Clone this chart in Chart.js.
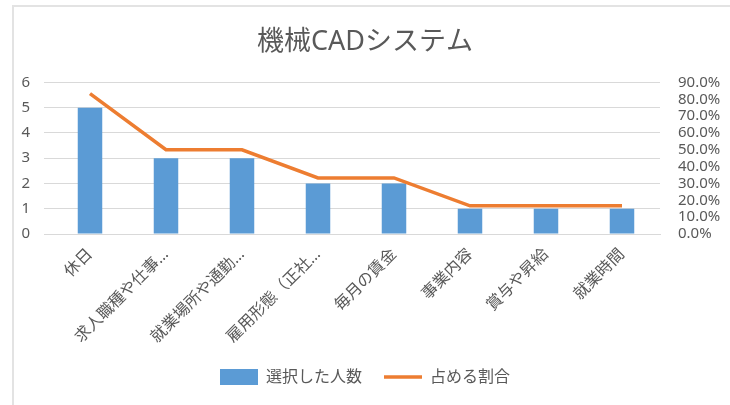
<!DOCTYPE html>
<html lang="ja">
<head>
  <meta charset="UTF-8">
  <title>機械CADシステム</title>
  <script src="https://cdn.jsdelivr.net/npm/chart.js"></script>
  <style>
    body {
      margin: 0;
      padding: 0;
      background: #ffffff;
    }
    .marco {
      position: absolute;
      left: 12px;
      top: 5px;
      width: 800px;
      height: 500px;
      border-left: 2px solid #e3e3e3;
      border-top: 2px solid #e3e3e3;
    }
    .contenedor {
      position: absolute;
      left: 0;
      top: 0;
      width: 730px;
      height: 405px;
    }
  </style>
</head>
<body>
  <div class="marco"></div>
  <div class="contenedor">
    <canvas id="grafico"></canvas>
  </div>

  <script>
    // datos
    const categorias = ['休日', '求人職種や仕事…', '就業場所や通勤…', '雇用形態（正社…', '毎月の賃金', '事業内容', '賞与や昇給', '就業時間'];
    const personas = [5, 3, 3, 2, 2, 1, 1, 1];
    const porcentajes = [0.833, 0.5, 0.5, 0.333, 0.333, 0.167, 0.167, 0.167];
    const ticksIzq = [0, 1, 2, 3, 4, 5, 6];
    const ticksDer = [0, 0.1, 0.2, 0.3, 0.4, 0.5, 0.6, 0.7, 0.8, 0.9];

    const gris = '#595959';
    const fuente = "'Noto Sans', 'Noto Sans CJK JP', sans-serif";

    new Chart(document.getElementById('grafico').getContext('2d'), {
      type: 'bar',
      data: {
        labels: categorias,
        datasets: [{
          label: '選択した人数',
          data: personas,
          backgroundColor: '#5B9BD5',
          categoryPercentage: 0.62,
          barPercentage: 0.52,
          yAxisID: 'y',
          order: 2
        }, {
          type: 'line',
          label: '占める割合',
          data: porcentajes,
          borderColor: '#ED7D31',
          backgroundColor: '#ED7D31',
          borderWidth: 3.5,
          pointRadius: 0,
          tension: 0,
          yAxisID: 'y2',
          order: 1
        }]
      },
      options: {
        responsive: true,
        maintainAspectRatio: false,
        animation: false,
        layout: { padding: { left: 0, right: 0, top: 0, bottom: 10 } },
        plugins: {
          title: {
            display: true,
            text: '機械CADシステム',
            color: gris,
            font: { family: fuente, size: 27, weight: 'normal' },
            padding: { top: 26, bottom: 24 }
          },
          legend: {
            position: 'bottom',
            labels: {
              color: gris,
              font: { family: fuente, size: 16 },
              usePointStyle: true,
              pointStyleWidth: 38,
              padding: 22,
              sort: (a, b) => a.datasetIndex - b.datasetIndex,
              generateLabels: chart => {
                const items = Chart.defaults.plugins.legend.labels.generateLabels(chart);
                items.forEach(it => {
                  it.pointStyle = it.datasetIndex === 0 ? 'rect' : 'line';
                });
                return items;
              }
            }
          },
          tooltip: { enabled: false }
        },
        scales: {
          x: {
            grid: { display: false },
            border: { color: '#d9d9d9' },
            afterFit: s => { s.height = 113; },
            ticks: {
              color: gris,
              font: { family: fuente, size: 16 },
              autoSkip: false,
              minRotation: 45,
              maxRotation: 45
            }
          },
          y: {
            position: 'left',
            min: 0,
            max: 6,
            afterFit: s => { s.width = 52; },
            afterBuildTicks: s => { s.ticks = ticksIzq.map(v => ({ value: v })); },
            grid: { color: '#d9d9d9' },
            border: { display: false },
            ticks: {
              color: gris,
              font: { family: fuente, size: 15 },
              padding: 14
            }
          },
          y2: {
            position: 'right',
            min: 0,
            max: 0.9,
            afterFit: s => { s.width = 70; },
            afterBuildTicks: s => { s.ticks = ticksDer.map(v => ({ value: v })); },
            grid: { display: false },
            border: { display: false },
            ticks: {
              color: gris,
              font: { family: fuente, size: 15 },
              padding: 10,
              autoSkip: false,
              callback: v => (v * 100).toFixed(1) + '%'
            }
          }
        }
      }
    });
  </script>
</body>
</html>
